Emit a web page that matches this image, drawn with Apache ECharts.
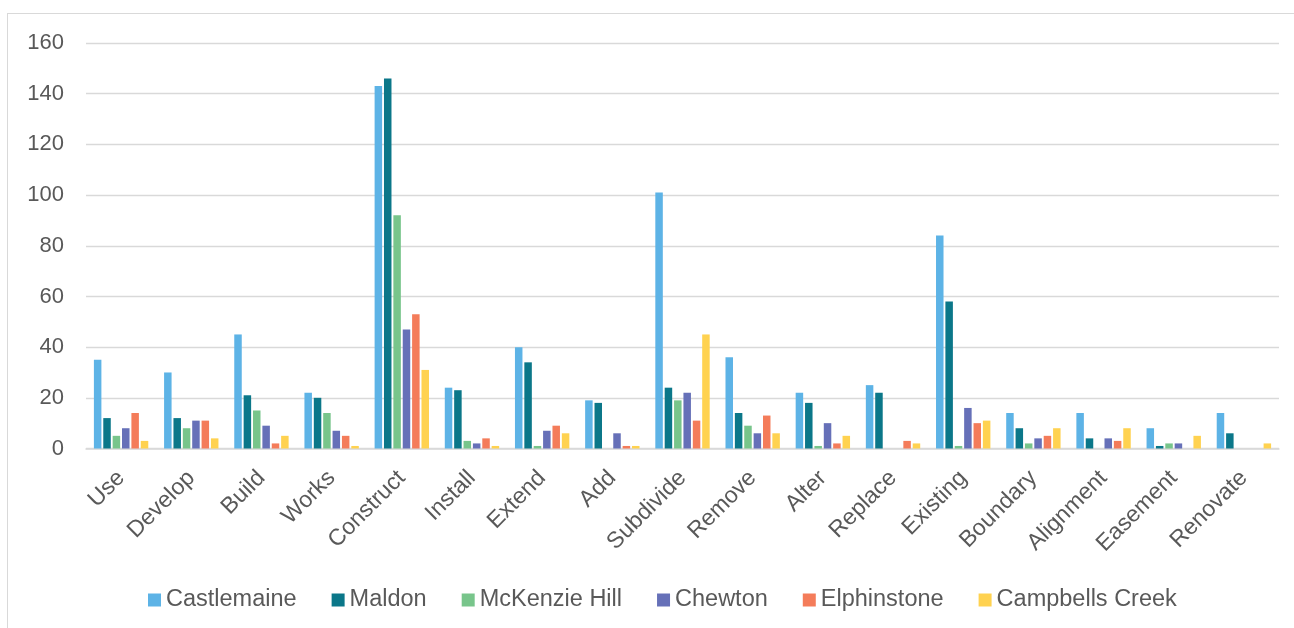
<!DOCTYPE html>
<html>
<head>
<meta charset="utf-8">
<script src="https://cdn.jsdelivr.net/npm/echarts@6/dist/echarts.min.js"></script>
<style>
  html, body { margin: 0; padding: 0; background: #ffffff; }
  #frame { position: absolute; left: 7px; top: 13px; width: 1400px; height: 700px; border: 1px solid #d9d9d9; box-sizing: border-box; }
  #chart { position: absolute; left: 0; top: 0; width: 1294px; height: 628px; }
</style>
</head>
<body>
<div id="frame"></div>
<div id="chart"></div>
<script>
const categories = ['Use','Develop','Build','Works','Construct','Install','Extend','Add','Subdivide','Remove','Alter','Replace','Existing','Boundary','Alignment','Easement','Renovate'];
const castlemaine    = [35, 30, 45, 22, 143, 24, 40, 19, 101, 36, 22, 25, 84, 14, 14, 8, 14];
const maldon         = [12, 12, 21, 20, 146, 23, 34, 18, 24, 14, 18, 22, 58, 8, 4, 1, 6];
const mckenzieHill   = [5, 8, 15, 14, 92, 3, 1, 0, 19, 9, 1, 0, 1, 2, 0, 2, 0];
const chewton        = [8, 11, 9, 7, 47, 2, 7, 6, 22, 6, 10, 0, 16, 4, 4, 2, 0];
const elphinstone    = [14, 11, 2, 5, 53, 4, 9, 1, 11, 13, 2, 3, 10, 5, 3, 0, 0];
const campbellsCreek = [3, 4, 5, 1, 31, 1, 6, 1, 45, 6, 5, 2, 11, 8, 8, 5, 2];
const yTicks = [0, 20, 40, 60, 80, 100, 120, 140, 160];

const seriesDefs = [
  ['Castlemaine', castlemaine, '#5DB3E6'],
  ['Maldon', maldon, '#0B7789'],
  ['McKenzie Hill', mckenzieHill, '#78C58B'],
  ['Chewton', chewton, '#6670B8'],
  ['Elphinstone', elphinstone, '#F47C5A'],
  ['Campbells Creek', campbellsCreek, '#FFD250']
];

const chart = echarts.init(document.getElementById('chart'), null, { renderer: 'canvas' });
const font = 'Liberation Sans, Arial, sans-serif';
chart.setOption({
  animation: false,
  backgroundColor: 'transparent',
  textStyle: { fontFamily: font },
  grid: { left: 86, right: 15, top: 43, bottom: 179.5, containLabel: false, outerBoundsMode: 'none' },
  legend: {
    left: 143,
    top: 583,
    itemWidth: 13,
    itemHeight: 13,
    itemGap: 35,
    icon: 'rect',
    textStyle: { fontSize: 23.5, color: '#595959', fontFamily: font },
    data: seriesDefs.map(s => s[0])
  },
  xAxis: {
    type: 'category',
    data: categories,
    axisLine: { lineStyle: { color: '#d9d9d9', width: 1.5 } },
    axisTick: { show: false },
    axisLabel: { rotate: 45, fontSize: 23, color: '#595959', margin: 26, interval: 0, fontFamily: font }
  },
  yAxis: {
    type: 'value',
    min: yTicks[0],
    max: yTicks[yTicks.length - 1],
    interval: 20,
    axisLine: { show: false },
    axisTick: { show: false },
    splitLine: { lineStyle: { color: '#d9d9d9', width: 1.3 } },
    axisLabel: { fontSize: 22, color: '#595959', margin: 22, fontFamily: font }
  },
  series: seriesDefs.map(([name, data, color]) => ({
    name: name,
    type: 'bar',
    data: data,
    barWidth: 7.5,
    barGap: '25%',
    itemStyle: { color: color }
  }))
});
</script>
</body>
</html>
